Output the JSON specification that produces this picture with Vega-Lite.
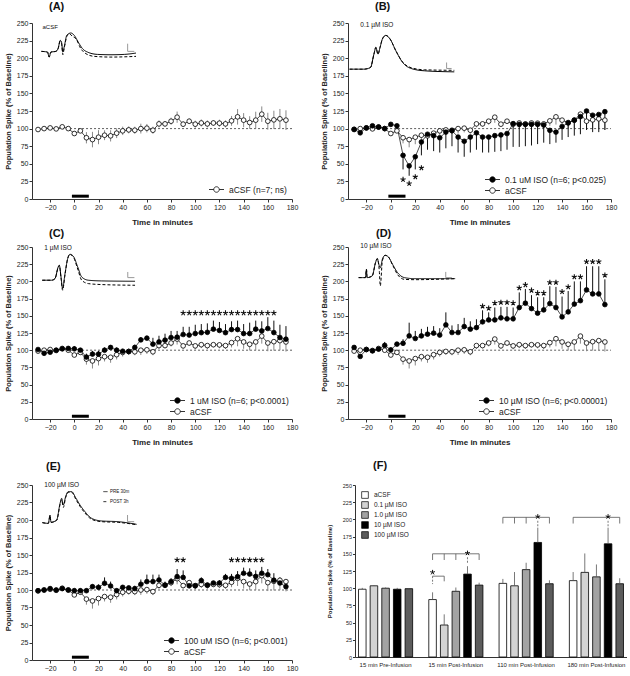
{
"$schema": "https://vega.github.io/schema/vega-lite/v6.json",
"padding": {"left": 4, "top": 1, "right": 0, "bottom": 0},
"config": {
  "font": "Liberation Sans",
  "view": {"stroke": null},
  "axis": {"grid": false, "labelFontSize": 7, "titleFontSize": 8, "titleFontWeight": "bold", "labelColor": "#222", "titleColor": "#222", "domainColor": "#333", "tickColor": "#333", "tickSize": 3, "labelPadding": 1, "titlePadding": 4, "labelOverlap": false, "labelFlush": false, "labelBound": false, "labelSeparation": -100},
  "title": {"fontSize": 11, "fontWeight": "bold", "anchor": "start", "frame": "group", "color": "#111"},
  "point": {"size": 22, "strokeWidth": 0.8, "stroke": "black", "filled": true, "opacity": 1},
  "legend": {"labelColor": "#222", "labelFont": "Liberation Sans"}
},
"datasets": {
  "acsf": [
    {"t":-30,"v":98.7,"lo":96.7,"hi":100.7},{"t":-25,"v":100,"lo":98,"hi":102},{"t":-20,"v":101,"lo":99,"hi":103},{"t":-15,"v":99.6,"lo":97.6,"hi":101.6},{"t":-10,"v":102.5,"lo":100.5,"hi":104.5},{"t":-5,"v":100,"lo":98,"hi":102},
    {"t":0,"v":93,"lo":90,"hi":96},{"t":5,"v":96.8,"lo":93.8,"hi":99.8},{"t":10,"v":87,"lo":79,"hi":95},{"t":15,"v":84.4,"lo":73.4,"hi":95.4},{"t":20,"v":87.8,"lo":77.8,"hi":97.8},{"t":25,"v":90.6,"lo":83.6,"hi":97.6},
    {"t":30,"v":89.7,"lo":81.7,"hi":97.7},{"t":35,"v":93.5,"lo":86.5,"hi":100.5},{"t":40,"v":96.8,"lo":90.8,"hi":102.8},{"t":45,"v":98.2,"lo":93.2,"hi":103.2},{"t":50,"v":97.7,"lo":92.7,"hi":102.7},{"t":55,"v":100,"lo":93,"hi":107},
    {"t":60,"v":100.6,"lo":94.6,"hi":106.6},{"t":65,"v":97.7,"lo":92.7,"hi":102.7},{"t":70,"v":106.7,"lo":101.7,"hi":111.7},{"t":75,"v":106.7,"lo":102.7,"hi":110.7},{"t":80,"v":110.5,"lo":105.5,"hi":115.5},{"t":85,"v":116.2,"lo":108.2,"hi":124.2},
    {"t":90,"v":106.3,"lo":102.3,"hi":110.3},{"t":95,"v":110.5,"lo":106.5,"hi":114.5},{"t":100,"v":106.3,"lo":101.3,"hi":111.3},{"t":105,"v":108,"lo":103,"hi":113},{"t":110,"v":106.7,"lo":101.7,"hi":111.7},{"t":115,"v":108,"lo":104,"hi":112},
    {"t":120,"v":107.7,"lo":102.7,"hi":112.7},{"t":125,"v":106.7,"lo":101.7,"hi":111.7},{"t":130,"v":111,"lo":104,"hi":118},{"t":135,"v":116.7,"lo":105.7,"hi":127.7},{"t":140,"v":112,"lo":102,"hi":122},{"t":145,"v":108.6,"lo":99.6,"hi":117.6},
    {"t":150,"v":112,"lo":100,"hi":124},{"t":155,"v":120.5,"lo":109.5,"hi":131.5},{"t":160,"v":110.5,"lo":98.5,"hi":122.5},{"t":165,"v":112.4,"lo":99.4,"hi":125.4},{"t":170,"v":113.9,"lo":99.9,"hi":127.9},{"t":175,"v":112,"lo":98,"hi":126}
  ],
  "b": [
    {"t":-30,"v":99,"e":97},{"t":-25,"v":94,"e":91},{"t":-20,"v":101,"e":99},{"t":-15,"v":104,"e":101},{"t":-10,"v":102,"e":100},{"t":-5,"v":100,"e":98},
    {"t":0,"v":106,"e":103},{"t":5,"v":104,"e":100},{"t":10,"v":62,"e":42},{"t":15,"v":47,"e":33},{"t":20,"v":60,"e":42},{"t":25,"v":81,"e":62},
    {"t":30,"v":92,"e":70},{"t":35,"v":90,"e":68},{"t":40,"v":87,"e":66},{"t":45,"v":95,"e":72},{"t":50,"v":97,"e":75},{"t":55,"v":88,"e":66},
    {"t":60,"v":82,"e":60},{"t":65,"v":88,"e":66},{"t":70,"v":94,"e":70},{"t":75,"v":88,"e":66},{"t":80,"v":88,"e":66},{"t":85,"v":90,"e":67},
    {"t":90,"v":91,"e":68},{"t":95,"v":93,"e":70},{"t":100,"v":107,"e":74},{"t":105,"v":106,"e":74},{"t":110,"v":106,"e":75},{"t":115,"v":106,"e":76},
    {"t":120,"v":106,"e":78},{"t":125,"v":105,"e":80},{"t":130,"v":97.5,"e":78},{"t":135,"v":95,"e":80},{"t":140,"v":103,"e":84},{"t":145,"v":108,"e":88},
    {"t":150,"v":112,"e":90},{"t":155,"v":117,"e":92},{"t":160,"v":125,"e":98},{"t":165,"v":119,"e":95},{"t":170,"v":120,"e":95},{"t":175,"v":124,"e":98}
  ],
  "c": [
    {"t":-30,"v":101,"e":103},{"t":-25,"v":95.5,"e":98},{"t":-20,"v":97,"e":99},{"t":-15,"v":100,"e":102},{"t":-10,"v":102,"e":104},{"t":-5,"v":102.6,"e":105},
    {"t":0,"v":102,"e":106},{"t":5,"v":100,"e":103},{"t":10,"v":90,"e":95},{"t":15,"v":94.3,"e":99},{"t":20,"v":94.3,"e":99},{"t":25,"v":100,"e":104},
    {"t":30,"v":104,"e":107},{"t":35,"v":100,"e":104},{"t":40,"v":98.5,"e":102},{"t":45,"v":98,"e":102},{"t":50,"v":104,"e":108},{"t":55,"v":115,"e":119},
    {"t":60,"v":117.5,"e":121},{"t":65,"v":108.8,"e":118},{"t":70,"v":112,"e":121},{"t":75,"v":114.6,"e":124},{"t":80,"v":118.4,"e":128},{"t":85,"v":118.9,"e":128},
    {"t":90,"v":122.8,"e":134},{"t":95,"v":122,"e":134},{"t":100,"v":124.2,"e":137},{"t":105,"v":125.5,"e":138},{"t":110,"v":126,"e":139},{"t":115,"v":130.6,"e":143},
    {"t":120,"v":128.7,"e":141},{"t":125,"v":125.5,"e":138},{"t":130,"v":130,"e":142},{"t":135,"v":130,"e":143},{"t":140,"v":124.2,"e":138},{"t":145,"v":124.2,"e":140},
    {"t":150,"v":130.6,"e":143},{"t":155,"v":128,"e":142},{"t":160,"v":131.5,"e":148},{"t":165,"v":125.6,"e":143},{"t":170,"v":118.4,"e":137},{"t":175,"v":116,"e":135}
  ],
  "d": [
    {"t":-30,"v":104,"e":106},{"t":-25,"v":91,"e":93},{"t":-20,"v":101,"e":103},{"t":-15,"v":99,"e":101},{"t":-10,"v":101.5,"e":104},{"t":-5,"v":107,"e":112},
    {"t":0,"v":100.5,"e":104},{"t":5,"v":108.8,"e":112},{"t":10,"v":110,"e":116},{"t":15,"v":120.8,"e":140},{"t":20,"v":117,"e":128},{"t":25,"v":120.8,"e":131},
    {"t":30,"v":123.3,"e":134},{"t":35,"v":124.8,"e":135},{"t":40,"v":122,"e":132},{"t":45,"v":136.8,"e":155},{"t":50,"v":125.7,"e":136},{"t":55,"v":125.7,"e":138},
    {"t":60,"v":134.4,"e":147},{"t":65,"v":130.6,"e":142},{"t":70,"v":132.9,"e":145},{"t":75,"v":141.2,"e":158},{"t":80,"v":144,"e":155},{"t":85,"v":144,"e":162},
    {"t":90,"v":147,"e":163},{"t":95,"v":145.6,"e":163},{"t":100,"v":145.6,"e":162},{"t":105,"v":162,"e":184},{"t":110,"v":168.3,"e":189},{"t":115,"v":160.5,"e":180},
    {"t":120,"v":153.8,"e":177},{"t":125,"v":158.6,"e":177},{"t":130,"v":167.7,"e":193},{"t":135,"v":162,"e":192},{"t":140,"v":148.4,"e":178},{"t":145,"v":155.7,"e":186},
    {"t":150,"v":167,"e":200},{"t":155,"v":172,"e":200},{"t":160,"v":187.6,"e":222},{"t":165,"v":181.8,"e":222},{"t":170,"v":181.8,"e":222},{"t":175,"v":166.3,"e":203}
  ],
  "e": [
    {"t":-30,"v":99,"e":101},{"t":-25,"v":100,"e":102},{"t":-20,"v":102,"e":104},{"t":-15,"v":100,"e":102},{"t":-10,"v":102,"e":104},{"t":-5,"v":100,"e":102},
    {"t":0,"v":99.1,"e":102},{"t":5,"v":99,"e":102},{"t":10,"v":99,"e":102},{"t":15,"v":104.8,"e":108},{"t":20,"v":103.8,"e":108},{"t":25,"v":109.6,"e":118},
    {"t":30,"v":105.7,"e":112},{"t":35,"v":99,"e":102},{"t":40,"v":103.8,"e":107},{"t":45,"v":103,"e":106},{"t":50,"v":102,"e":106},{"t":55,"v":108.2,"e":115},
    {"t":60,"v":112,"e":122},{"t":65,"v":112,"e":122},{"t":70,"v":114.3,"e":122},{"t":75,"v":107,"e":112},{"t":80,"v":112,"e":117},{"t":85,"v":119.1,"e":130},
    {"t":90,"v":118,"e":128},{"t":95,"v":106,"e":109},{"t":100,"v":106,"e":109},{"t":105,"v":113.4,"e":118},{"t":110,"v":107,"e":110},{"t":115,"v":110,"e":113},
    {"t":120,"v":110,"e":114},{"t":125,"v":118,"e":123},{"t":130,"v":116.7,"e":123},{"t":135,"v":119,"e":127},{"t":140,"v":123.9,"e":132},{"t":145,"v":122.8,"e":131},
    {"t":150,"v":119.4,"e":128},{"t":155,"v":123.9,"e":133},{"t":160,"v":121.8,"e":130},{"t":165,"v":114,"e":124},{"t":170,"v":110,"e":118},{"t":175,"v":104.8,"e":110}
  ],
  "sb": [{"t":10,"v":27.6},{"t":15,"v":21.9},{"t":20,"v":31.4},{"t":25,"v":44.2}],
  "sc": [{"t":90,"v":154},{"t":95,"v":154},{"t":100,"v":154},{"t":105,"v":154},{"t":110,"v":154},{"t":115,"v":154},{"t":120,"v":154},{"t":125,"v":154},{"t":130,"v":154},{"t":135,"v":154},{"t":140,"v":154},{"t":145,"v":154},{"t":150,"v":154},{"t":155,"v":154},{"t":160,"v":154},{"t":165,"v":154}],
  "sd": [{"t":75,"v":164},{"t":80,"v":161},{"t":85,"v":168.5},{"t":90,"v":169.5},{"t":95,"v":169.5},{"t":100,"v":168.5},{"t":105,"v":190.5},{"t":110,"v":195},{"t":115,"v":187},{"t":120,"v":183},{"t":125,"v":183},{"t":130,"v":198.5},{"t":135,"v":198.5},{"t":140,"v":185},{"t":145,"v":192},{"t":150,"v":206.5},{"t":155,"v":206.5},{"t":160,"v":228.7},{"t":165,"v":228.7},{"t":170,"v":228.7},{"t":175,"v":209}],
  "se": [{"t":85,"v":143},{"t":90,"v":143},{"t":130,"v":143},{"t":135,"v":143},{"t":140,"v":143},{"t":145,"v":143},{"t":150,"v":143},{"t":155,"v":143}],
  "inf": [{"start":-2,"end":12,"level":4}],
  "wa": [
    {"tr":"PRE","t":-27.2,"v":209.7},{"tr":"PRE","t":-22.2,"v":208.7},{"tr":"PRE","t":-20.8,"v":201.6},{"tr":"PRE","t":-19.4,"v":208.7},{"tr":"PRE","t":-15.3,"v":209.7},{"tr":"PRE","t":-13.4,"v":213.5},{"tr":"PRE","t":-11.7,"v":225.3},{"tr":"PRE","t":-10.6,"v":223},{"tr":"PRE","t":-9.5,"v":208.7},{"tr":"PRE","t":-8.4,"v":215.8},{"tr":"PRE","t":-6.2,"v":232.5},{"tr":"PRE","t":-2.9,"v":235.8},{"tr":"PRE","t":-0.1,"v":232.5},{"tr":"PRE","t":3.2,"v":223},{"tr":"PRE","t":6.8,"v":213.5},{"tr":"PRE","t":10.9,"v":208.7},{"tr":"PRE","t":19.2,"v":205.4},{"tr":"PRE","t":30.3,"v":204.9},{"tr":"PRE","t":41.3,"v":205.4},{"tr":"PRE","t":51,"v":207.3},
    {"tr":"POST","t":-27.2,"v":209.7},{"tr":"POST","t":-22.2,"v":208.7},{"tr":"POST","t":-20.8,"v":201.6},{"tr":"POST","t":-19.4,"v":208.7},{"tr":"POST","t":-15.3,"v":209.7},{"tr":"POST","t":-13.4,"v":214},{"tr":"POST","t":-11.7,"v":224},{"tr":"POST","t":-10.6,"v":221},{"tr":"POST","t":-9.5,"v":205},{"tr":"POST","t":-8.4,"v":214},{"tr":"POST","t":-6.2,"v":231},{"tr":"POST","t":-4.3,"v":234.8},{"tr":"POST","t":-1.5,"v":231},{"tr":"POST","t":1.3,"v":227.7},{"tr":"POST","t":5.4,"v":213.5},{"tr":"POST","t":9.6,"v":206.4},{"tr":"POST","t":16.5,"v":202.6},{"tr":"POST","t":30.3,"v":201.6},{"tr":"POST","t":51,"v":202.6}
  ],
  "wb": [
    {"tr":"PRE","t":-33.7,"v":184.4},{"tr":"PRE","t":-22.1,"v":184.4},{"tr":"PRE","t":-16.6,"v":186.8},{"tr":"PRE","t":-13.8,"v":205.8},{"tr":"PRE","t":-12.2,"v":215.3},{"tr":"PRE","t":-10.5,"v":205.8},{"tr":"PRE","t":-8.8,"v":215.3},{"tr":"PRE","t":-6.9,"v":227.2},{"tr":"PRE","t":-4.1,"v":232.4},{"tr":"PRE","t":-0.6,"v":227.2},{"tr":"PRE","t":4.1,"v":210.6},{"tr":"PRE","t":9.7,"v":193.9},{"tr":"PRE","t":16.6,"v":185.4},{"tr":"PRE","t":27.6,"v":182.1},{"tr":"PRE","t":51.9,"v":180.6},
    {"tr":"POST","t":-33.7,"v":184.4},{"tr":"POST","t":-22.1,"v":184.4},{"tr":"POST","t":-16.6,"v":186.8},{"tr":"POST","t":-13.8,"v":205.8},{"tr":"POST","t":-12.2,"v":215.3},{"tr":"POST","t":-10.5,"v":205.8},{"tr":"POST","t":-8.8,"v":215.3},{"tr":"POST","t":-6.9,"v":227.2},{"tr":"POST","t":-4.1,"v":232.4},{"tr":"POST","t":-0.6,"v":227.2},{"tr":"POST","t":4.1,"v":210.6},{"tr":"POST","t":9.7,"v":194.5},{"tr":"POST","t":16.6,"v":186.5},{"tr":"POST","t":27.6,"v":183.5},{"tr":"POST","t":51.9,"v":182.8}
  ],
  "wc": [
    {"tr":"PRE","t":-26.5,"v":201.7},{"tr":"PRE","t":-18.8,"v":201.7},{"tr":"PRE","t":-16,"v":204},{"tr":"PRE","t":-13.3,"v":221},{"tr":"PRE","t":-12.4,"v":223.4},{"tr":"PRE","t":-11,"v":206.5},{"tr":"PRE","t":-9.7,"v":189.6},{"tr":"PRE","t":-7.7,"v":211.3},{"tr":"PRE","t":-5.5,"v":233.1},{"tr":"PRE","t":-3.6,"v":239.4},{"tr":"PRE","t":-0.8,"v":236.5},{"tr":"PRE","t":2.8,"v":221},{"tr":"PRE","t":6.1,"v":206.5},{"tr":"PRE","t":11.6,"v":201.7},{"tr":"PRE","t":22.6,"v":200.7},{"tr":"PRE","t":50.2,"v":200.2},
    {"tr":"POST","t":-26.5,"v":201.7},{"tr":"POST","t":-18.8,"v":201.7},{"tr":"POST","t":-16,"v":204},{"tr":"POST","t":-13.3,"v":221},{"tr":"POST","t":-12.4,"v":223.4},{"tr":"POST","t":-11,"v":205},{"tr":"POST","t":-9.7,"v":187.2},{"tr":"POST","t":-7.7,"v":210},{"tr":"POST","t":-5.5,"v":233},{"tr":"POST","t":-3.6,"v":239},{"tr":"POST","t":-0.8,"v":235.5},{"tr":"POST","t":2.8,"v":218},{"tr":"POST","t":6.1,"v":201.7},{"tr":"POST","t":11.6,"v":196.8},{"tr":"POST","t":22.6,"v":195.4},{"tr":"POST","t":50.2,"v":194.4}
  ],
  "wd": [
    {"tr":"PRE","t":-26.3,"v":205.5},{"tr":"PRE","t":-20.8,"v":205.5},{"tr":"PRE","t":-19.9,"v":217.6},{"tr":"PRE","t":-19.4,"v":205.5},{"tr":"PRE","t":-15.2,"v":208},{"tr":"PRE","t":-12.5,"v":227.3},{"tr":"PRE","t":-11.1,"v":233.1},{"tr":"PRE","t":-9.4,"v":222.5},{"tr":"PRE","t":-8.6,"v":220},{"tr":"PRE","t":-6.9,"v":232.1},{"tr":"PRE","t":-4.7,"v":237.9},{"tr":"PRE","t":-2.2,"v":236},{"tr":"PRE","t":1.4,"v":224.9},{"tr":"PRE","t":5.5,"v":212.8},{"tr":"PRE","t":11.1,"v":205.5},{"tr":"PRE","t":19.4,"v":204},{"tr":"PRE","t":52.6,"v":204},
    {"tr":"POST","t":-26.3,"v":205.5},{"tr":"POST","t":-20.8,"v":205.5},{"tr":"POST","t":-19.9,"v":217.6},{"tr":"POST","t":-19.4,"v":205.5},{"tr":"POST","t":-15.2,"v":208},{"tr":"POST","t":-12.5,"v":227.3},{"tr":"POST","t":-11.1,"v":233.1},{"tr":"POST","t":-9.4,"v":215},{"tr":"POST","t":-8.6,"v":193.4},{"tr":"POST","t":-6.9,"v":230},{"tr":"POST","t":-4.7,"v":237.9},{"tr":"POST","t":-2.2,"v":236},{"tr":"POST","t":1.4,"v":224},{"tr":"POST","t":5.5,"v":210},{"tr":"POST","t":11.1,"v":203},{"tr":"POST","t":19.4,"v":202.5},{"tr":"POST","t":52.6,"v":204}
  ],
  "we": [
    {"tr":"PRE","t":-26.4,"v":196.2},{"tr":"PRE","t":-21.5,"v":195.2},{"tr":"PRE","t":-20.1,"v":207.1},{"tr":"PRE","t":-19.3,"v":196.7},{"tr":"PRE","t":-14.6,"v":200},{"tr":"PRE","t":-11.8,"v":223.8},{"tr":"PRE","t":-10.5,"v":231},{"tr":"PRE","t":-9.1,"v":221.4},{"tr":"PRE","t":-7.2,"v":233.3},{"tr":"PRE","t":-5,"v":240.5},{"tr":"PRE","t":-2.2,"v":240.5},{"tr":"PRE","t":1.1,"v":231.9},{"tr":"PRE","t":4.7,"v":221.4},{"tr":"PRE","t":8.8,"v":211.9},{"tr":"PRE","t":14.3,"v":202.4},{"tr":"PRE","t":22.6,"v":198.6},{"tr":"PRE","t":36.3,"v":197.6},{"tr":"PRE","t":51.5,"v":193.8},
    {"tr":"POST","t":-26.4,"v":196.2},{"tr":"POST","t":-21.5,"v":195.2},{"tr":"POST","t":-20.1,"v":206},{"tr":"POST","t":-19.3,"v":196.7},{"tr":"POST","t":-14.6,"v":199.5},{"tr":"POST","t":-11.8,"v":222},{"tr":"POST","t":-10.5,"v":229},{"tr":"POST","t":-9.1,"v":218},{"tr":"POST","t":-7.2,"v":232},{"tr":"POST","t":-5,"v":239.5},{"tr":"POST","t":-2.2,"v":239.5},{"tr":"POST","t":1.1,"v":230},{"tr":"POST","t":4.7,"v":219.5},{"tr":"POST","t":8.8,"v":210},{"tr":"POST","t":14.3,"v":201},{"tr":"POST","t":22.6,"v":197.6},{"tr":"POST","t":36.3,"v":196.6},{"tr":"POST","t":51.5,"v":193.3}
  ],
  "scalebars": [
    {"p":"A","t1":44.1,"t2":44.1,"v1":220.6,"v2":209.7},{"p":"A","t1":44.1,"t2":49.6,"v1":209.7,"v2":209.7},
    {"p":"B","t1":45.6,"t2":45.6,"v1":193.9,"v2":185.4},{"p":"B","t1":45.6,"t2":49.7,"v1":185.4,"v2":185.4},
    {"p":"C","t1":44.2,"t2":44.2,"v1":213.7,"v2":205.5},{"p":"C","t1":44.2,"t2":49.7,"v1":205.5,"v2":205.5},
    {"p":"D","t1":44.9,"t2":44.9,"v1":213.8,"v2":205.5},{"p":"D","t1":44.9,"t2":49.9,"v1":205.5,"v2":205.5},
    {"p":"E","t1":44,"t2":44,"v1":207.1,"v2":197.6},{"p":"E","t1":44,"t2":49.5,"v1":197.6,"v2":197.6}
  ],
  "labels": [
    {"p":"A","t":-26.3,"v":244.3,"s":6,"txt":"aCSF"},
    {"p":"B","t":-24.9,"v":247.6,"s":6.5,"txt":"0.1 µM ISO"},
    {"p":"C","t":-24.9,"v":249,"s":6.5,"txt":"1 µM ISO"},
    {"p":"D","t":-24.9,"v":251.5,"s":6.5,"txt":"10 µM ISO"},
    {"p":"E","t":-24.8,"v":250,"s":6.5,"txt":"100 µM ISO"},
    {"p":"E","t":29.5,"v":240.5,"s":4.5,"txt":"PRE 30m"},
    {"p":"E","t":29.5,"v":226.2,"s":4.5,"txt":"POST 3h"}
  ],
  "elegend": [
    {"tr":"PRE","a":24,"b":27.5,"v":240.5},{"tr":"POST","a":24,"b":27.5,"v":226.2}
  ],
  "fbars": [
    {"g":"15 min  Pre-Infusion","s":"aCSF","v":98.5,"e":100.5},{"g":"15 min  Pre-Infusion","s":"0.1 µM ISO","v":103.5,"e":104.5},{"g":"15 min  Pre-Infusion","s":"1.0 µM ISO","v":100,"e":101},{"g":"15 min  Pre-Infusion","s":"10 µM ISO","v":98.5,"e":100.5},{"g":"15 min  Pre-Infusion","s":"100 µM ISO","v":99.3,"e":100.3},
    {"g":"15 min  Post-Infusion","s":"aCSF","v":83.5,"e":94},{"g":"15 min  Post-Infusion","s":"0.1 µM ISO","v":46.5,"e":62},{"g":"15 min  Post-Infusion","s":"1.0 µM ISO","v":95.5,"e":101},{"g":"15 min  Post-Infusion","s":"10 µM ISO","v":120.5,"e":132},{"g":"15 min  Post-Infusion","s":"100 µM ISO","v":104.5,"e":108},
    {"g":"110 min Post-Infusion","s":"aCSF","v":107,"e":113.5},{"g":"110 min Post-Infusion","s":"0.1 µM ISO","v":103.5,"e":123.5},{"g":"110 min Post-Infusion","s":"1.0 µM ISO","v":127,"e":137},{"g":"110 min Post-Infusion","s":"10 µM ISO","v":166.5,"e":188},{"g":"110 min Post-Infusion","s":"100 µM ISO","v":106.5,"e":111.5},
    {"g":"180 min Post-Infusion","s":"aCSF","v":111,"e":123.5},{"g":"180 min Post-Infusion","s":"0.1 µM ISO","v":123,"e":150.5},{"g":"180 min Post-Infusion","s":"1.0 µM ISO","v":116.5,"e":134.5},{"g":"180 min Post-Infusion","s":"10 µM ISO","v":164.5,"e":188},{"g":"180 min Post-Infusion","s":"100 µM ISO","v":106.5,"e":114.5}
  ],
  "fbr": [
    {"id":"b1","g":"15 min  Post-Infusion","s":"aCSF","v":117.5},{"id":"b1","g":"15 min  Post-Infusion","s":"0.1 µM ISO","v":117.5},
    {"id":"b2","g":"15 min  Post-Infusion","s":"aCSF","v":150},{"id":"b2","g":"15 min  Post-Infusion","s":"100 µM ISO","v":150},
    {"id":"b3","g":"110 min Post-Infusion","s":"aCSF","v":203},{"id":"b3","g":"110 min Post-Infusion","s":"100 µM ISO","v":203},
    {"id":"b4","g":"180 min Post-Infusion","s":"aCSF","v":203},{"id":"b4","g":"180 min Post-Infusion","s":"100 µM ISO","v":203}
  ],
  "fticks": [
    {"g":"15 min  Post-Infusion","s":"0.1 µM ISO","v1":117.5,"v2":110},
    {"g":"15 min  Post-Infusion","s":"aCSF","v1":150,"v2":141},{"g":"15 min  Post-Infusion","s":"0.1 µM ISO","v1":150,"v2":141},{"g":"15 min  Post-Infusion","s":"1.0 µM ISO","v1":150,"v2":141},{"g":"15 min  Post-Infusion","s":"100 µM ISO","v1":150,"v2":141},
    {"g":"110 min Post-Infusion","s":"aCSF","v1":203,"v2":194},{"g":"110 min Post-Infusion","s":"0.1 µM ISO","v1":203,"v2":194},{"g":"110 min Post-Infusion","s":"1.0 µM ISO","v1":203,"v2":194},{"g":"110 min Post-Infusion","s":"100 µM ISO","v1":203,"v2":194},
    {"g":"180 min Post-Infusion","s":"aCSF","v1":203,"v2":194},{"g":"180 min Post-Infusion","s":"100 µM ISO","v1":203,"v2":194}
  ],
  "fdash": [
    {"g":"15 min  Post-Infusion","s":"aCSF","v1":117.5,"v2":106},
    {"g":"15 min  Post-Infusion","s":"10 µM ISO","v1":145,"v2":136},
    {"g":"110 min Post-Infusion","s":"10 µM ISO","v1":198,"v2":189},
    {"g":"180 min Post-Infusion","s":"10 µM ISO","v1":198,"v2":189}
  ],
  "fstars": [
    {"g":"15 min  Post-Infusion","s":"aCSF","v":123},{"g":"15 min  Post-Infusion","s":"10 µM ISO","v":151},{"g":"110 min Post-Infusion","s":"10 µM ISO","v":204},{"g":"180 min Post-Infusion","s":"10 µM ISO","v":204}
  ]
},
"spacing": 1,
"resolve": {"scale": {"fill": "independent", "strokeDash": "independent"}, "legend": {"fill": "independent"}},
"vconcat": [
 {"spacing": 22,
  "resolve": {"scale": {"fill": "independent", "strokeDash": "independent"}, "legend": {"fill": "independent"}},
  "hconcat": [
  {"width": 260, "height": 176, "title": {"text": "(A)", "dx": 17, "offset": 7},
   "layer": [
    {"data": {"name": "inf"}, "mark": {"type": "rule", "strokeWidth": 3, "color": "black"}, "encoding": {"x": {"field": "start", "type": "quantitative", "scale": {"domain": [-35,180], "nice": false, "zero": false}, "axis": {"values": [-20,0,20,40,60,80,100,120,140,160,180], "tickCount": 11, "labelOverlap": false, "labelSeparation": -100, "title": "Time in minutes", "titlePadding": 8}}, "x2": {"field": "end"}, "y": {"field": "level", "type": "quantitative", "scale": {"domain": [0,250], "nice": false}, "axis": {"values": [0,25,50,75,100,125,150,175,200,225,250], "tickCount": 11, "labelOverlap": false, "labelSeparation": -100, "title": "Population Spike (% of Baseline)", "titleFontSize": 7.5}}}},
    {"data": {"values": [{}]}, "mark": {"type": "rule", "strokeDash": [2,2], "strokeWidth": 0.8, "color": "#333"}, "encoding": {"x": {"datum": -30, "type": "quantitative"}, "x2": {"datum": 180}, "y": {"datum": 100, "type": "quantitative"}}},
    {"data": {"name": "wa"}, "mark": {"type": "line", "color": "black", "strokeWidth": 1, "interpolate": "monotone"}, "encoding": {"x": {"field": "t", "type": "quantitative"}, "y": {"field": "v", "type": "quantitative"}, "strokeDash": {"field": "tr", "type": "nominal", "scale": {"domain": ["PRE","POST"], "range": [[1,0],[3,2]]}, "legend": null}}},
    {"data": {"name": "scalebars"}, "transform": [{"filter": {"field": "p", "equal": "A"}}], "mark": {"type": "rule", "color": "#999", "strokeWidth": 1}, "encoding": {"x": {"field": "t1", "type": "quantitative"}, "x2": {"field": "t2"}, "y": {"field": "v1", "type": "quantitative"}, "y2": {"field": "v2"}}},
    {"data": {"name": "labels"}, "transform": [{"filter": {"field": "p", "equal": "A"}}], "mark": {"type": "text", "align": "left", "baseline": "middle", "fill": "#111"}, "encoding": {"x": {"field": "t", "type": "quantitative"}, "y": {"field": "v", "type": "quantitative"}, "text": {"field": "txt"}, "size": {"field": "s", "type": "quantitative", "scale": null}}},
    {"data": {"name": "acsf"}, "mark": {"type": "rule", "color": "#888", "strokeWidth": 1}, "encoding": {"x": {"field": "t", "type": "quantitative"}, "y": {"field": "lo", "type": "quantitative"}, "y2": {"field": "hi"}}},
    {"data": {"name": "acsf"}, "mark": {"type": "line", "color": "black", "strokeWidth": 0.7}, "encoding": {"x": {"field": "t", "type": "quantitative"}, "y": {"field": "v", "type": "quantitative"}}},
    {"data": {"name": "acsf"}, "mark": {"type": "point", "shape": "circle"}, "encoding": {"x": {"field": "t", "type": "quantitative"}, "y": {"field": "v", "type": "quantitative"},
      "fill": {"datum": "aCSF (n=7; ns)", "type": "nominal", "scale": {"domain": ["aCSF (n=7; ns)"], "range": ["white"]},
        "legend": {"title": null, "orient": "bottom-right", "offset": 5, "symbolType": "M -1.5 0 L -0.55 0 M 0.55 0 L 1.5 0 M 0.55 0 A 0.55 0.55 0 1 1 -0.55 0 A 0.55 0.55 0 1 1 0.55 0 Z", "symbolSize": 100, "symbolStrokeColor": "black", "symbolStrokeWidth": 0.8, "labelFontSize": 8.5, "labelOffset": 7, "rowPadding": 1, "labelLimit": 300}}}}
   ]},
  {"width": 263, "height": 176, "title": {"text": "(B)", "dx": 27, "offset": 7},
   "layer": [
    {"data": {"name": "inf"}, "mark": {"type": "rule", "strokeWidth": 3, "color": "black"}, "encoding": {"x": {"field": "start", "type": "quantitative", "scale": {"domain": [-35,180], "nice": false, "zero": false}, "axis": {"values": [-20,0,20,40,60,80,100,120,140,160,180], "tickCount": 11, "labelOverlap": false, "labelSeparation": -100, "title": "Time in minutes", "titlePadding": 8}}, "x2": {"field": "end"}, "y": {"field": "level", "type": "quantitative", "scale": {"domain": [0,250], "nice": false}, "axis": {"values": [0,25,50,75,100,125,150,175,200,225,250], "tickCount": 11, "labelOverlap": false, "labelSeparation": -100, "title": "Population Spike (% of Baseline)", "titleFontSize": 7.5}}}},
    {"data": {"values": [{}]}, "mark": {"type": "rule", "strokeDash": [2,2], "strokeWidth": 0.8, "color": "#333"}, "encoding": {"x": {"datum": -30, "type": "quantitative"}, "x2": {"datum": 180}, "y": {"datum": 100, "type": "quantitative"}}},
    {"data": {"name": "wb"}, "mark": {"type": "line", "color": "black", "strokeWidth": 1, "interpolate": "monotone"}, "encoding": {"x": {"field": "t", "type": "quantitative"}, "y": {"field": "v", "type": "quantitative"}, "strokeDash": {"field": "tr", "type": "nominal", "scale": {"domain": ["PRE","POST"], "range": [[1,0],[3,2]]}, "legend": null}}},
    {"data": {"name": "scalebars"}, "transform": [{"filter": {"field": "p", "equal": "B"}}], "mark": {"type": "rule", "color": "#999", "strokeWidth": 1}, "encoding": {"x": {"field": "t1", "type": "quantitative"}, "x2": {"field": "t2"}, "y": {"field": "v1", "type": "quantitative"}, "y2": {"field": "v2"}}},
    {"data": {"name": "labels"}, "transform": [{"filter": {"field": "p", "equal": "B"}}], "mark": {"type": "text", "align": "left", "baseline": "middle", "fill": "#111"}, "encoding": {"x": {"field": "t", "type": "quantitative"}, "y": {"field": "v", "type": "quantitative"}, "text": {"field": "txt"}, "size": {"field": "s", "type": "quantitative", "scale": null}}},
    {"data": {"name": "acsf"}, "mark": {"type": "rule", "color": "#888", "strokeWidth": 1}, "encoding": {"x": {"field": "t", "type": "quantitative"}, "y": {"field": "lo", "type": "quantitative"}, "y2": {"field": "v"}}},
    {"data": {"name": "b"}, "mark": {"type": "rule", "color": "#111", "strokeWidth": 1}, "encoding": {"x": {"field": "t", "type": "quantitative"}, "y": {"field": "e", "type": "quantitative"}, "y2": {"field": "v"}}},
    {"data": {"name": "acsf"}, "mark": {"type": "line", "color": "black", "strokeWidth": 0.7}, "encoding": {"x": {"field": "t", "type": "quantitative"}, "y": {"field": "v", "type": "quantitative"}}},
    {"data": {"name": "b"}, "mark": {"type": "line", "color": "black", "strokeWidth": 0.7}, "encoding": {"x": {"field": "t", "type": "quantitative"}, "y": {"field": "v", "type": "quantitative"}}},
    {"data": {"name": "acsf"}, "mark": {"type": "point", "shape": "circle"}, "encoding": {"x": {"field": "t", "type": "quantitative"}, "y": {"field": "v", "type": "quantitative"}, "fill": {"datum": "aCSF", "type": "nominal"}}},
    {"data": {"name": "b"}, "mark": {"type": "point", "shape": "circle"}, "encoding": {"x": {"field": "t", "type": "quantitative"}, "y": {"field": "v", "type": "quantitative"},
      "fill": {"datum": "0.1 uM ISO (n=6; p<0.025)", "type": "nominal", "scale": {"domain": ["0.1 uM ISO (n=6; p<0.025)", "aCSF"], "range": ["black", "white"]},
        "legend": {"title": null, "orient": "bottom-right", "offset": 4, "symbolType": "M -1.5 0 L -0.55 0 M 0.55 0 L 1.5 0 M 0.55 0 A 0.55 0.55 0 1 1 -0.55 0 A 0.55 0.55 0 1 1 0.55 0 Z", "symbolSize": 100, "symbolStrokeColor": "black", "symbolStrokeWidth": 0.8, "labelFontSize": 8.5, "labelOffset": 7, "rowPadding": 1, "labelLimit": 300}}}},
    {"data": {"name": "sb"}, "mark": {"type": "point", "shape": "M0,-1L0,0M0,0L0.95,-0.31M0,0L-0.95,-0.31M0,0L0.59,0.81M0,0L-0.59,0.81", "filled": false, "stroke": "#111", "strokeWidth": 1.1, "size": 30}, "encoding": {"x": {"field": "t", "type": "quantitative"}, "y": {"field": "v", "type": "quantitative"}}}
   ]}
 ]},
 {"spacing": 22,
  "resolve": {"scale": {"fill": "independent", "strokeDash": "independent"}, "legend": {"fill": "independent"}},
  "hconcat": [
  {"width": 260, "height": 172, "title": {"text": "(C)", "dx": 17, "offset": 4},
   "layer": [
    {"data": {"name": "inf"}, "mark": {"type": "rule", "strokeWidth": 3, "color": "black"}, "encoding": {"x": {"field": "start", "type": "quantitative", "scale": {"domain": [-35,180], "nice": false, "zero": false}, "axis": {"values": [-20,0,20,40,60,80,100,120,140,160,180], "tickCount": 11, "labelOverlap": false, "labelSeparation": -100, "title": "Time in minutes", "titlePadding": 8}}, "x2": {"field": "end"}, "y": {"field": "level", "type": "quantitative", "scale": {"domain": [0,250], "nice": false}, "axis": {"values": [0,25,50,75,100,125,150,175,200,225,250], "tickCount": 11, "labelOverlap": false, "labelSeparation": -100, "title": "Population Spike (% of Baseline)", "titleFontSize": 7.5}}}},
    {"data": {"values": [{}]}, "mark": {"type": "rule", "strokeDash": [2,2], "strokeWidth": 0.8, "color": "#333"}, "encoding": {"x": {"datum": -30, "type": "quantitative"}, "x2": {"datum": 180}, "y": {"datum": 100, "type": "quantitative"}}},
    {"data": {"name": "wc"}, "mark": {"type": "line", "color": "black", "strokeWidth": 1, "interpolate": "monotone"}, "encoding": {"x": {"field": "t", "type": "quantitative"}, "y": {"field": "v", "type": "quantitative"}, "strokeDash": {"field": "tr", "type": "nominal", "scale": {"domain": ["PRE","POST"], "range": [[1,0],[3,2]]}, "legend": null}}},
    {"data": {"name": "scalebars"}, "transform": [{"filter": {"field": "p", "equal": "C"}}], "mark": {"type": "rule", "color": "#999", "strokeWidth": 1}, "encoding": {"x": {"field": "t1", "type": "quantitative"}, "x2": {"field": "t2"}, "y": {"field": "v1", "type": "quantitative"}, "y2": {"field": "v2"}}},
    {"data": {"name": "labels"}, "transform": [{"filter": {"field": "p", "equal": "C"}}], "mark": {"type": "text", "align": "left", "baseline": "middle", "fill": "#111"}, "encoding": {"x": {"field": "t", "type": "quantitative"}, "y": {"field": "v", "type": "quantitative"}, "text": {"field": "txt"}, "size": {"field": "s", "type": "quantitative", "scale": null}}},
    {"data": {"name": "acsf"}, "mark": {"type": "rule", "color": "#888", "strokeWidth": 1}, "encoding": {"x": {"field": "t", "type": "quantitative"}, "y": {"field": "lo", "type": "quantitative"}, "y2": {"field": "v"}}},
    {"data": {"name": "c"}, "mark": {"type": "rule", "color": "#111", "strokeWidth": 1}, "encoding": {"x": {"field": "t", "type": "quantitative"}, "y": {"field": "e", "type": "quantitative"}, "y2": {"field": "v"}}},
    {"data": {"name": "acsf"}, "mark": {"type": "line", "color": "black", "strokeWidth": 0.7}, "encoding": {"x": {"field": "t", "type": "quantitative"}, "y": {"field": "v", "type": "quantitative"}}},
    {"data": {"name": "c"}, "mark": {"type": "line", "color": "black", "strokeWidth": 0.7}, "encoding": {"x": {"field": "t", "type": "quantitative"}, "y": {"field": "v", "type": "quantitative"}}},
    {"data": {"name": "acsf"}, "mark": {"type": "point", "shape": "circle"}, "encoding": {"x": {"field": "t", "type": "quantitative"}, "y": {"field": "v", "type": "quantitative"}, "fill": {"datum": "aCSF", "type": "nominal"}}},
    {"data": {"name": "c"}, "mark": {"type": "point", "shape": "circle"}, "encoding": {"x": {"field": "t", "type": "quantitative"}, "y": {"field": "v", "type": "quantitative"},
      "fill": {"datum": "1 uM ISO (n=6; p<0.0001)", "type": "nominal", "scale": {"domain": ["1 uM ISO (n=6; p<0.0001)", "aCSF"], "range": ["black", "white"]},
        "legend": {"title": null, "orient": "bottom-right", "offset": 3, "symbolType": "M -1.5 0 L -0.55 0 M 0.55 0 L 1.5 0 M 0.55 0 A 0.55 0.55 0 1 1 -0.55 0 A 0.55 0.55 0 1 1 0.55 0 Z", "symbolSize": 100, "symbolStrokeColor": "black", "symbolStrokeWidth": 0.8, "labelFontSize": 8.5, "labelOffset": 7, "rowPadding": 1, "labelLimit": 300}}}},
    {"data": {"name": "sc"}, "mark": {"type": "point", "shape": "M0,-1L0,0M0,0L0.95,-0.31M0,0L-0.95,-0.31M0,0L0.59,0.81M0,0L-0.59,0.81", "filled": false, "stroke": "#111", "strokeWidth": 1.1, "size": 30}, "encoding": {"x": {"field": "t", "type": "quantitative"}, "y": {"field": "v", "type": "quantitative"}}}
   ]},
  {"width": 263, "height": 172, "title": {"text": "(D)", "dx": 28, "offset": 4},
   "layer": [
    {"data": {"name": "inf"}, "mark": {"type": "rule", "strokeWidth": 3, "color": "black"}, "encoding": {"x": {"field": "start", "type": "quantitative", "scale": {"domain": [-35,180], "nice": false, "zero": false}, "axis": {"values": [-20,0,20,40,60,80,100,120,140,160,180], "tickCount": 11, "labelOverlap": false, "labelSeparation": -100, "title": "Time in minutes", "titlePadding": 8}}, "x2": {"field": "end"}, "y": {"field": "level", "type": "quantitative", "scale": {"domain": [0,250], "nice": false}, "axis": {"values": [0,25,50,75,100,125,150,175,200,225,250], "tickCount": 11, "labelOverlap": false, "labelSeparation": -100, "title": "Population Spike (% of Baseline)", "titleFontSize": 7.5}}}},
    {"data": {"values": [{}]}, "mark": {"type": "rule", "strokeDash": [2,2], "strokeWidth": 0.8, "color": "#333"}, "encoding": {"x": {"datum": -30, "type": "quantitative"}, "x2": {"datum": 180}, "y": {"datum": 100, "type": "quantitative"}}},
    {"data": {"name": "wd"}, "mark": {"type": "line", "color": "black", "strokeWidth": 1, "interpolate": "monotone"}, "encoding": {"x": {"field": "t", "type": "quantitative"}, "y": {"field": "v", "type": "quantitative"}, "strokeDash": {"field": "tr", "type": "nominal", "scale": {"domain": ["PRE","POST"], "range": [[1,0],[3,2]]}, "legend": null}}},
    {"data": {"name": "scalebars"}, "transform": [{"filter": {"field": "p", "equal": "D"}}], "mark": {"type": "rule", "color": "#999", "strokeWidth": 1}, "encoding": {"x": {"field": "t1", "type": "quantitative"}, "x2": {"field": "t2"}, "y": {"field": "v1", "type": "quantitative"}, "y2": {"field": "v2"}}},
    {"data": {"name": "labels"}, "transform": [{"filter": {"field": "p", "equal": "D"}}], "mark": {"type": "text", "align": "left", "baseline": "middle", "fill": "#111"}, "encoding": {"x": {"field": "t", "type": "quantitative"}, "y": {"field": "v", "type": "quantitative"}, "text": {"field": "txt"}, "size": {"field": "s", "type": "quantitative", "scale": null}}},
    {"data": {"name": "acsf"}, "mark": {"type": "rule", "color": "#888", "strokeWidth": 1}, "encoding": {"x": {"field": "t", "type": "quantitative"}, "y": {"field": "lo", "type": "quantitative"}, "y2": {"field": "v"}}},
    {"data": {"name": "d"}, "mark": {"type": "rule", "color": "#111", "strokeWidth": 1}, "encoding": {"x": {"field": "t", "type": "quantitative"}, "y": {"field": "e", "type": "quantitative"}, "y2": {"field": "v"}}},
    {"data": {"name": "acsf"}, "mark": {"type": "line", "color": "black", "strokeWidth": 0.7}, "encoding": {"x": {"field": "t", "type": "quantitative"}, "y": {"field": "v", "type": "quantitative"}}},
    {"data": {"name": "d"}, "mark": {"type": "line", "color": "black", "strokeWidth": 0.7}, "encoding": {"x": {"field": "t", "type": "quantitative"}, "y": {"field": "v", "type": "quantitative"}}},
    {"data": {"name": "acsf"}, "mark": {"type": "point", "shape": "circle"}, "encoding": {"x": {"field": "t", "type": "quantitative"}, "y": {"field": "v", "type": "quantitative"}, "fill": {"datum": "aCSF", "type": "nominal"}}},
    {"data": {"name": "d"}, "mark": {"type": "point", "shape": "circle"}, "encoding": {"x": {"field": "t", "type": "quantitative"}, "y": {"field": "v", "type": "quantitative"},
      "fill": {"datum": "10 µM ISO (n=6; p<0.00001)", "type": "nominal", "scale": {"domain": ["10 µM ISO (n=6; p<0.00001)", "aCSF"], "range": ["black", "white"]},
        "legend": {"title": null, "orient": "bottom-right", "offset": 3, "symbolType": "M -1.5 0 L -0.55 0 M 0.55 0 L 1.5 0 M 0.55 0 A 0.55 0.55 0 1 1 -0.55 0 A 0.55 0.55 0 1 1 0.55 0 Z", "symbolSize": 100, "symbolStrokeColor": "black", "symbolStrokeWidth": 0.8, "labelFontSize": 8.5, "labelOffset": 7, "rowPadding": 1, "labelLimit": 300}}}},
    {"data": {"name": "sd"}, "mark": {"type": "point", "shape": "M0,-1L0,0M0,0L0.95,-0.31M0,0L-0.95,-0.31M0,0L0.59,0.81M0,0L-0.59,0.81", "filled": false, "stroke": "#111", "strokeWidth": 1.1, "size": 30}, "encoding": {"x": {"field": "t", "type": "quantitative"}, "y": {"field": "v", "type": "quantitative"}}}
   ]}
 ]},
 {"spacing": 28,
  "resolve": {"scale": {"fill": "independent", "strokeDash": "independent"}, "legend": {"fill": "independent"}},
  "hconcat": [
  {"width": 260, "height": 175, "title": {"text": [" ", "(E)"], "lineHeight": 14, "dx": 14, "offset": 9},
   "layer": [
    {"data": {"name": "inf"}, "mark": {"type": "rule", "strokeWidth": 3, "color": "black"}, "encoding": {"x": {"field": "start", "type": "quantitative", "scale": {"domain": [-35,180], "nice": false, "zero": false}, "axis": {"values": [-20,0,20,40,60,80,100,120,140,160,180], "tickCount": 11, "labelOverlap": false, "labelSeparation": -100, "title": "Time in minutes", "titlePadding": 5}}, "x2": {"field": "end"}, "y": {"field": "level", "type": "quantitative", "scale": {"domain": [0,250], "nice": false}, "axis": {"values": [0,25,50,75,100,125,150,175,200,225,250], "tickCount": 11, "labelOverlap": false, "labelSeparation": -100, "title": "Population Spike (% of Baseline)", "titleFontSize": 7.5}}}},
    {"data": {"values": [{}]}, "mark": {"type": "rule", "strokeDash": [2,2], "strokeWidth": 0.8, "color": "#333"}, "encoding": {"x": {"datum": -30, "type": "quantitative"}, "x2": {"datum": 180}, "y": {"datum": 100, "type": "quantitative"}}},
    {"data": {"name": "we"}, "mark": {"type": "line", "color": "black", "strokeWidth": 1, "interpolate": "monotone"}, "encoding": {"x": {"field": "t", "type": "quantitative"}, "y": {"field": "v", "type": "quantitative"}, "strokeDash": {"field": "tr", "type": "nominal", "scale": {"domain": ["PRE","POST"], "range": [[1,0],[3,2]]}, "legend": null}}},
    {"data": {"name": "elegend"}, "mark": {"type": "rule", "color": "black", "strokeWidth": 0.8}, "encoding": {"x": {"field": "a", "type": "quantitative"}, "x2": {"field": "b"}, "y": {"field": "v", "type": "quantitative"}, "strokeDash": {"field": "tr", "type": "nominal", "legend": null}}},
    {"data": {"name": "scalebars"}, "transform": [{"filter": {"field": "p", "equal": "E"}}], "mark": {"type": "rule", "color": "#999", "strokeWidth": 1}, "encoding": {"x": {"field": "t1", "type": "quantitative"}, "x2": {"field": "t2"}, "y": {"field": "v1", "type": "quantitative"}, "y2": {"field": "v2"}}},
    {"data": {"name": "labels"}, "transform": [{"filter": {"field": "p", "equal": "E"}}], "mark": {"type": "text", "align": "left", "baseline": "middle", "fill": "#111"}, "encoding": {"x": {"field": "t", "type": "quantitative"}, "y": {"field": "v", "type": "quantitative"}, "text": {"field": "txt"}, "size": {"field": "s", "type": "quantitative", "scale": null}}},
    {"data": {"name": "acsf"}, "mark": {"type": "rule", "color": "#888", "strokeWidth": 1}, "encoding": {"x": {"field": "t", "type": "quantitative"}, "y": {"field": "lo", "type": "quantitative"}, "y2": {"field": "v"}}},
    {"data": {"name": "e"}, "mark": {"type": "rule", "color": "#111", "strokeWidth": 1}, "encoding": {"x": {"field": "t", "type": "quantitative"}, "y": {"field": "e", "type": "quantitative"}, "y2": {"field": "v"}}},
    {"data": {"name": "acsf"}, "mark": {"type": "line", "color": "black", "strokeWidth": 0.7}, "encoding": {"x": {"field": "t", "type": "quantitative"}, "y": {"field": "v", "type": "quantitative"}}},
    {"data": {"name": "e"}, "mark": {"type": "line", "color": "black", "strokeWidth": 0.7}, "encoding": {"x": {"field": "t", "type": "quantitative"}, "y": {"field": "v", "type": "quantitative"}}},
    {"data": {"name": "acsf"}, "mark": {"type": "point", "shape": "circle"}, "encoding": {"x": {"field": "t", "type": "quantitative"}, "y": {"field": "v", "type": "quantitative"}, "fill": {"datum": "aCSF", "type": "nominal"}}},
    {"data": {"name": "e"}, "mark": {"type": "point", "shape": "circle"}, "encoding": {"x": {"field": "t", "type": "quantitative"}, "y": {"field": "v", "type": "quantitative"},
      "fill": {"datum": "100 uM ISO (n=6; p<0.001)", "type": "nominal", "scale": {"domain": ["100 uM ISO (n=6; p<0.001)", "aCSF"], "range": ["black", "white"]},
        "legend": {"title": null, "orient": "bottom-right", "offset": 4, "symbolType": "M -1.5 0 L -0.55 0 M 0.55 0 L 1.5 0 M 0.55 0 A 0.55 0.55 0 1 1 -0.55 0 A 0.55 0.55 0 1 1 0.55 0 Z", "symbolSize": 100, "symbolStrokeColor": "black", "symbolStrokeWidth": 0.8, "labelFontSize": 8.5, "labelOffset": 7, "rowPadding": 1, "labelLimit": 300}}}},
    {"data": {"name": "se"}, "mark": {"type": "point", "shape": "M0,-1L0,0M0,0L0.95,-0.31M0,0L-0.95,-0.31M0,0L0.59,0.81M0,0L-0.59,0.81", "filled": false, "stroke": "#111", "strokeWidth": 1.1, "size": 30}, "encoding": {"x": {"field": "t", "type": "quantitative"}, "y": {"field": "v", "type": "quantitative"}}}
   ]},
  {"width": 272, "height": 172, "title": {"text": "(F)", "dx": 18, "offset": 12},
   "layer": [
    {"data": {"name": "fbars"}, "mark": {"type": "bar", "stroke": "black", "strokeWidth": 0.8},
     "encoding": {
      "x": {"field": "g", "type": "nominal", "scale": {"domain": ["15 min  Pre-Infusion","15 min  Post-Infusion","110 min Post-Infusion","180 min Post-Infusion"], "paddingInner": 0.2, "paddingOuter": 0.035}, "axis": {"title": null, "labelAngle": 0, "ticks": false, "labelFontSize": 6, "labelPadding": 4, "labelLimit": 120}},
      "xOffset": {"field": "s", "type": "nominal", "scale": {"domain": ["aCSF","0.1 µM ISO","1.0 µM ISO","10 µM ISO","100 µM ISO"], "paddingInner": 0.35, "paddingOuter": 0.09}},
      "y": {"field": "v", "type": "quantitative", "scale": {"domain": [0,250], "nice": false}, "axis": {"values": [0,25,50,75,100,125,150,175,200,225,250], "tickCount": 11, "labelOverlap": false, "labelSeparation": -100, "title": "Population Spike (% of Baseline)", "labelFontSize": 5.5, "titleFontSize": 6, "titlePadding": 10, "tickSize": 2.5}},
      "fill": {"field": "s", "type": "nominal", "scale": {"domain": ["aCSF","0.1 µM ISO","1.0 µM ISO","10 µM ISO","100 µM ISO"], "range": ["#ffffff","#d3d3d3","#a3a3a3","#000000","#5c5c5c"]},
        "legend": {"title": null, "orient": "top-left", "offset": 6, "symbolType": "square", "symbolSize": 45, "symbolStrokeColor": "black", "symbolStrokeWidth": 0.7, "labelFontSize": 6.5, "rowPadding": 0, "labelOffset": 5}}
     }},
    {"data": {"name": "fbars"}, "mark": {"type": "rule", "color": "#555", "strokeWidth": 0.8}, "encoding": {"x": {"field": "g", "type": "nominal"}, "xOffset": {"field": "s", "type": "nominal"}, "y": {"field": "v", "type": "quantitative"}, "y2": {"field": "e"}}},
    {"data": {"name": "fbr"}, "mark": {"type": "line", "color": "#555", "strokeWidth": 0.8}, "encoding": {"x": {"field": "g", "type": "nominal"}, "xOffset": {"field": "s", "type": "nominal"}, "y": {"field": "v", "type": "quantitative"}, "detail": {"field": "id"}}},
    {"data": {"name": "fticks"}, "mark": {"type": "rule", "color": "#555", "strokeWidth": 0.8}, "encoding": {"x": {"field": "g", "type": "nominal"}, "xOffset": {"field": "s", "type": "nominal"}, "y": {"field": "v1", "type": "quantitative"}, "y2": {"field": "v2"}}},
    {"data": {"name": "fdash"}, "mark": {"type": "rule", "color": "#555", "strokeWidth": 0.8, "strokeDash": [2,1.5]}, "encoding": {"x": {"field": "g", "type": "nominal"}, "xOffset": {"field": "s", "type": "nominal"}, "y": {"field": "v1", "type": "quantitative"}, "y2": {"field": "v2"}}},
    {"data": {"name": "fstars"}, "mark": {"type": "point", "shape": "M0,-1L0,0M0,0L0.95,-0.31M0,0L-0.95,-0.31M0,0L0.59,0.81M0,0L-0.59,0.81", "filled": false, "stroke": "#111", "strokeWidth": 1, "size": 25}, "encoding": {"x": {"field": "g", "type": "nominal"}, "xOffset": {"field": "s", "type": "nominal"}, "y": {"field": "v", "type": "quantitative"}}}
   ]}
 ]}
]
}
